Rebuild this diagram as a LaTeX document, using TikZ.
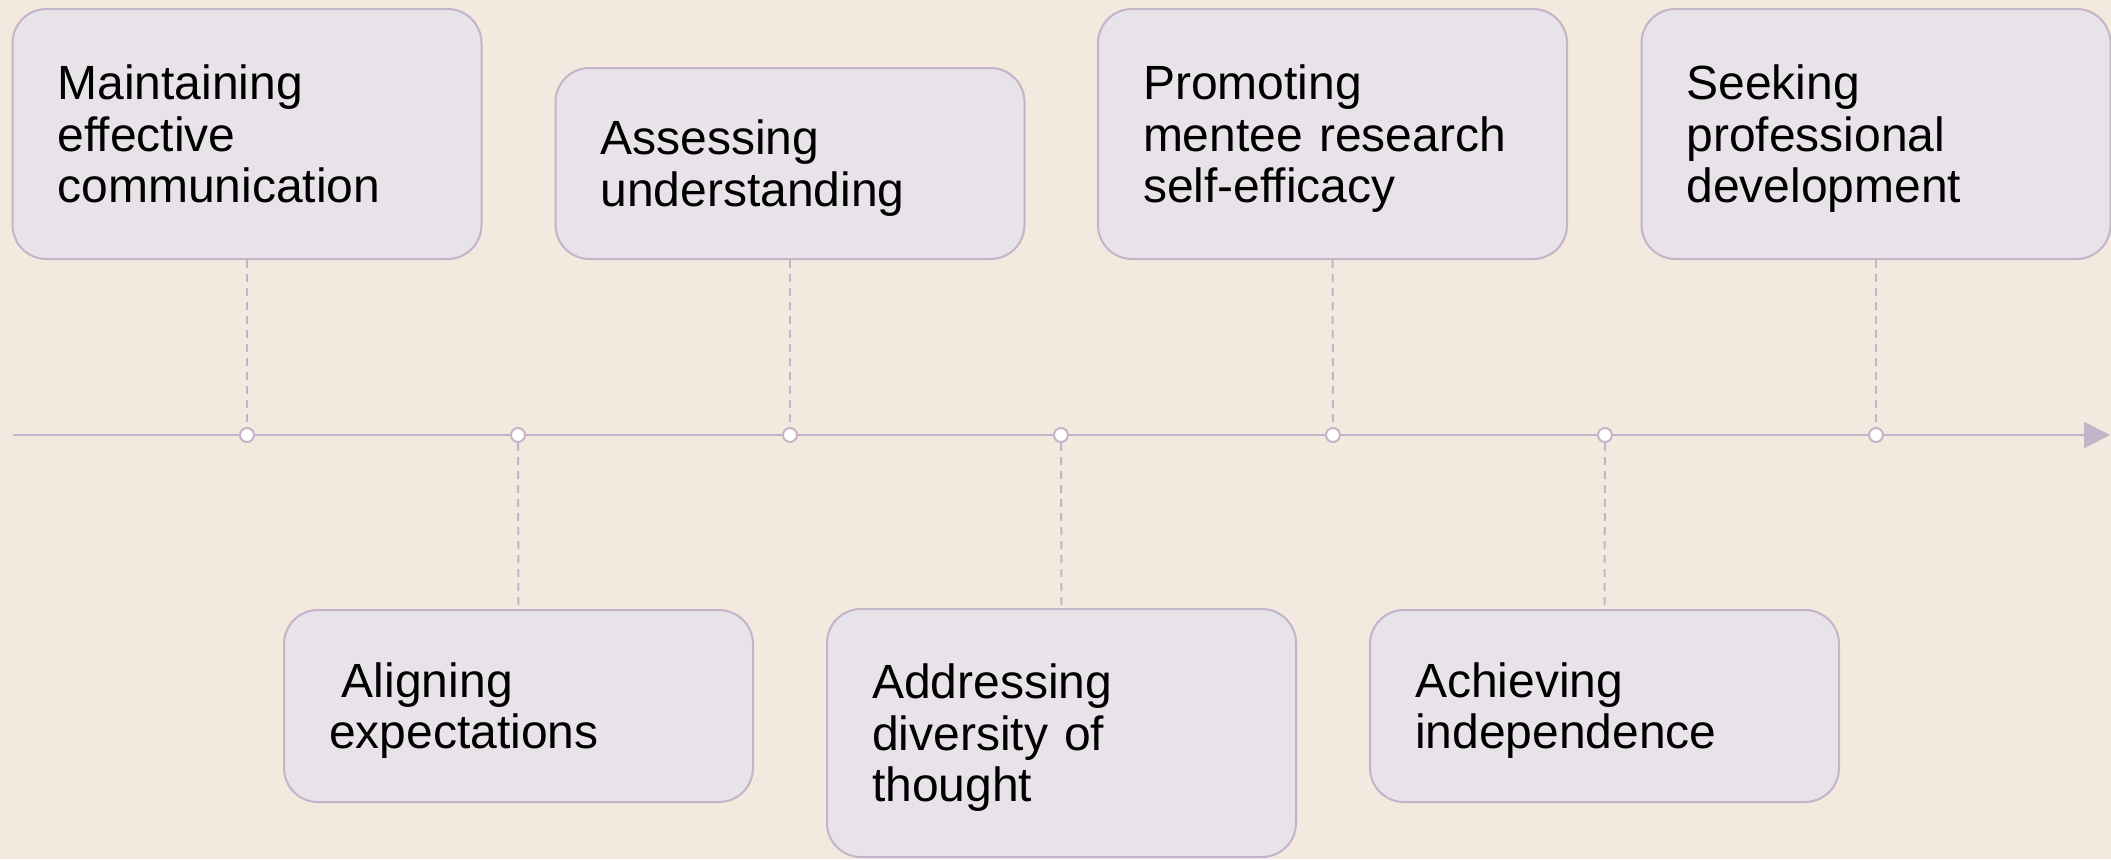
\documentclass[tikz,border=0pt]{standalone}
\usepackage{fontspec}
\setmainfont{Liberation Sans}
\usetikzlibrary{arrows.meta}

\definecolor{paper}{HTML}{F3E9DE}
\definecolor{cardfill}{HTML}{E8E3E8}
\definecolor{cardline}{HTML}{C4B4CA}

% invisible struts that fix the height of the first line and the depth of
% the last line, so every text block sits the same way inside its card
\newcommand{\firstline}{\rule{0pt}{22.5pt}}
\newcommand{\lastline}{\rule[-5.5pt]{0pt}{5.5pt}}

\tikzset{
  card/.style={draw=cardline, fill=cardfill, line width=1pt,
    rounded corners=17pt, minimum width=234.5pt, text width=189.5pt,
    inner xsep=22.5pt, align=left,
    font=\fontsize{24pt}{25.75pt}\selectfont},
  tick/.style={circle, draw=cardline, fill=white, line width=1pt,
    minimum size=7pt, inner sep=0pt},
  leader/.style={draw=cardline, line width=1pt, dash pattern=on 4pt off 3pt},
  axis/.style={draw=cardline, line width=1pt,
    -{Triangle[length=13pt,width=13pt]}}
}

\begin{document}
\begin{tikzpicture}[x=0.5pt,y=-0.5pt]
  % canvas
  \fill[paper] (0,0) rectangle (2111,859);
  \useasboundingbox (0,0) rectangle (2111,859);

  % time axis
  \coordinate (axisL) at (13,435);
  \coordinate (axisR) at (2110,435);
  \draw[axis] (axisL) -- (axisR);

  % markers on the axis
  \foreach \i/\x in {1/247,2/518,3/790,4/1061,5/1333,6/1605,7/1876}
    \node[tick] (t\i) at (\x,435) {};

  % cards above the axis
  \node[card, minimum height=125pt] (c1) at (247,134)
    {\firstline Maintaining\\effective\\communication\lastline};
  \node[card, minimum height=95.5pt] (c3) at (790,163.5)
    {\firstline Assessing\\understanding\lastline};
  \node[card, minimum height=125pt] (c5) at (1332.5,134)
    {\firstline Promoting\\mentee research\\self-efficacy\lastline};
  \node[card, minimum height=125pt] (c7) at (1876,134)
    {\firstline Seeking\\professional\\development\lastline};

  % cards below the axis
  \node[card, minimum height=96pt] (c2) at (518.5,706)
    {\firstline\hspace*{0.27em}Aligning\\expectations\lastline};
  \node[card, minimum height=124pt] (c4) at (1061.5,733)
    {\firstline Addressing\\diversity of\\thought\lastline};
  \node[card, minimum height=96pt] (c6) at (1604.5,706)
    {\firstline Achieving\\independence\lastline};

  % dashed leaders
  \foreach \i in {1,3,5,7}
    \draw[leader] (c\i.south) -- (t\i.north);
  \foreach \i in {2,4,6}
    \draw[leader] (t\i.south) -- (c\i.north);
\end{tikzpicture}
\end{document}
